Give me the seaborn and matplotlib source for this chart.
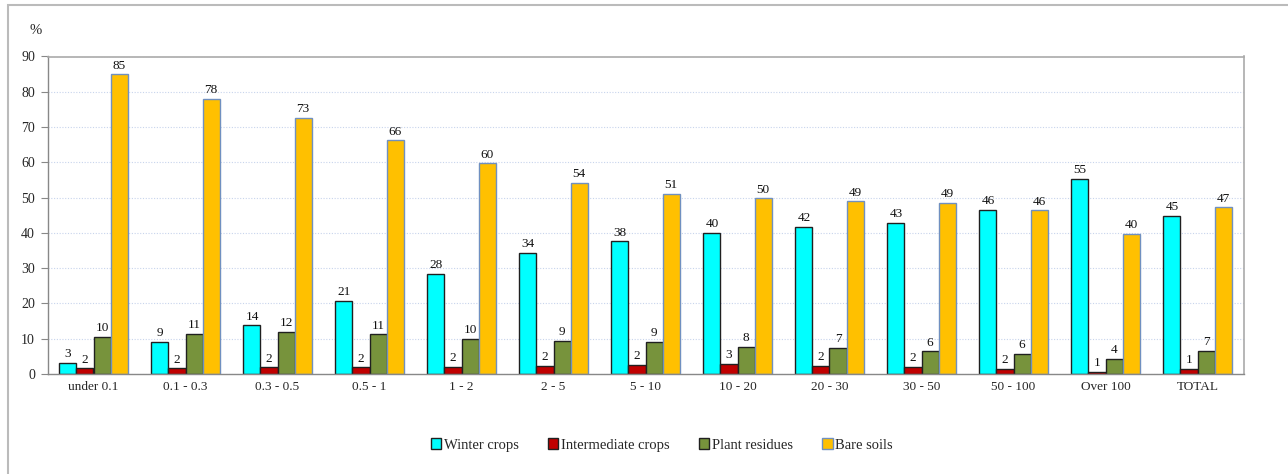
import matplotlib
matplotlib.use("Agg")
import matplotlib.pyplot as plt
import seaborn as sns
import pandas as pd
import numpy as np
from matplotlib.patches import Rectangle

categories = ["under 0.1", "0.1 - 0.3", "0.3 - 0.5", "0.5 - 1", "1 - 2", "2 - 5", "5 - 10",
              "10 - 20", "20 - 30", "30 - 50", "50 - 100", "Over 100", "TOTAL"]
series = ["Winter crops", "Intermediate crops", "Plant residues", "Bare soils"]
winter = [3.1, 9.0, 13.8, 20.7, 28.4, 34.4, 37.6, 40.0, 41.6, 42.9, 46.5, 55.3, 44.9]
intermediate = [1.6, 1.6, 1.9, 1.9, 2.0, 2.2, 2.5, 2.8, 2.3, 2.1, 1.5, 0.7, 1.4]
residues = [10.5, 11.3, 11.9, 11.2, 10.0, 9.3, 9.0, 7.6, 7.3, 6.4, 5.6, 4.3, 6.6]
bare = [84.9, 78.0, 72.6, 66.2, 59.7, 54.1, 51.0, 49.8, 48.9, 48.6, 46.4, 39.7, 47.2]
yticks = [0, 10, 20, 30, 40, 50, 60, 70, 80, 90]

colors = ["#00FFFF", "#C00000", "#77933C", "#FFC000"]
edges = ["#202020", "#202020", "#202020", "#7090C0"]

df = pd.DataFrame({
    "cat": np.repeat(categories, 4),
    "series": series * len(categories),
    "value": np.ravel(np.column_stack([winter, intermediate, residues, bare])),
})

sns.set_style("white")
plt.rcParams["font.family"] = ["Liberation Serif", "DejaVu Serif"]

fig = plt.figure(figsize=(12.88, 4.74), dpi=100)
W, H = 1288, 474
ax = fig.add_axes([47.5 / W, 1 - 374 / H, (1243.5 - 47.5) / W, (374 - 56.5) / H])

sns.barplot(data=df, x="cat", y="value", hue="series", order=categories, hue_order=series,
            palette=colors, width=0.74, gap=0, ax=ax, legend=False, saturation=1,
            linewidth=1.0, edgecolor="#202020")

for cont, ec in zip(ax.containers, edges):
    for bar in cont:
        bar.set_edgecolor(ec)
    ax.bar_label(cont, labels=[f"{round(v):d}" for v in cont.datavalues], padding=2,
                 fontsize=9.5, color="#111111")

ax.set_ylim(0, 90)
ax.set_xlim(-0.5, len(categories) - 0.5)
ax.set_yticks(yticks)
ax.set_yticklabels([str(t) for t in yticks], fontsize=10)
ax.set_xticks(range(len(categories)))
ax.set_xticklabels(categories, fontsize=9.5)
ax.set_xticks(np.arange(-0.5, len(categories), 1.0), minor=True)
ax.tick_params(axis="x", which="major", length=0, pad=5)
ax.tick_params(axis="x", which="minor", length=5, width=0.8, color="#888888", direction="out")
ax.tick_params(axis="y", length=5, width=0.8, color="#888888", direction="out", left=True, pad=4)
ax.set_xlabel("")
ax.set_ylabel("")
ax.yaxis.grid(True, linestyle=(0, (1, 1.5)), color="#C8D4EC", linewidth=0.8)
ax.set_axisbelow(True)
for s in ["left", "bottom"]:
    ax.spines[s].set_color("#888888")
    ax.spines[s].set_linewidth(1.0)
for s in ["top", "right"]:
    ax.spines[s].set_color("#AAAAAA")
    ax.spines[s].set_linewidth(1.2)

fig.text(29 / W, 1 - 31 / H, "%", fontsize=10.5, va="center", ha="left")

# outer chart frame
fig.patches.append(Rectangle((7.5 / W, -0.05), 1.2, 1 - 5 / H + 0.05, transform=fig.transFigure,
                             fill=False, edgecolor="#BBBBBB", linewidth=1.5))

handles = [Rectangle((0, 0), 1, 1, facecolor=c, edgecolor=e, linewidth=1.0)
           for c, e in zip(colors, edges)]
fig.legend(handles, series, loc="center", bbox_to_anchor=(662 / W, 1 - 445 / H), ncol=4,
           frameon=False, fontsize=10.5, handlelength=0.7, handleheight=0.7,
           handletextpad=0.2, columnspacing=2.0)

fig.savefig("out.png", dpi=100)
